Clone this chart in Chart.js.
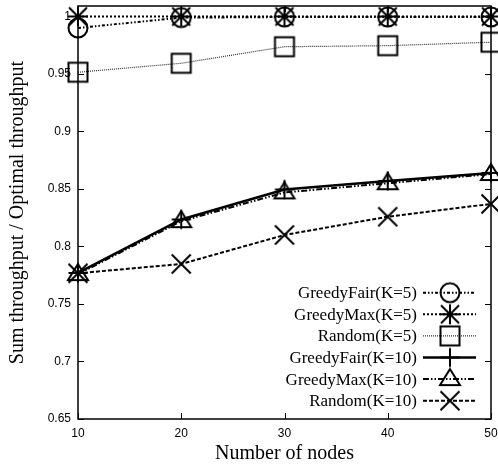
<!DOCTYPE html>
<html>
<head>
<meta charset="utf-8">
<script src="https://cdn.jsdelivr.net/npm/chart.js@4"></script>
<style>
  html, body { margin: 0; padding: 0; background: #fff; overflow: hidden; }
  canvas { display: block; }
</style>
</head>
<body>
<canvas id="chart" width="498" height="466"></canvas>
<script>
// ---------------- Data ----------------
const nodes = [10, 20, 30, 40, 50];
const greedyFair5 = [0.990, 0.999, 0.9995, 0.9995, 0.9995];
const greedyMax5 = [1.0, 1.0, 1.0, 1.0, 1.0];
const random5 = [0.9515, 0.9593, 0.9737, 0.9746, 0.9776];
const greedyFair10 = [0.777, 0.8235, 0.8496, 0.857, 0.864];
const greedyMax10 = [0.776, 0.822, 0.847, 0.855, 0.863];
const random10 = [0.7767, 0.7848, 0.810, 0.8259, 0.837];

const xTicks = [10, 20, 30, 40, 50];
const yTicks = [0.65, 0.7, 0.75, 0.8, 0.85, 0.9, 0.95, 1];

// ---------------- Markers (gnuplot-like, open) ----------------
function makeMarker(kind) {
  const c = document.createElement("canvas");
  c.width = 26; c.height = 26;
  const g = c.getContext("2d");
  g.strokeStyle = "#000";
  g.lineWidth = 2;
  g.translate(13, 13);
  g.beginPath();
  if (kind === "circle") {
    g.arc(0, 0, 9.5, 0, Math.PI * 2);
  } else if (kind === "asterisk") {
    g.moveTo(0, -10); g.lineTo(0, 10);
    g.moveTo(-10, 0); g.lineTo(10, 0);
    g.moveTo(-9, -9); g.lineTo(9, 9);
    g.moveTo(-9, 9); g.lineTo(9, -9);
  } else if (kind === "square") {
    g.rect(-9.5, -9.5, 19, 19);
  } else if (kind === "plus") {
    g.moveTo(0, -9.5); g.lineTo(0, 9.5);
    g.moveTo(-9.5, 0); g.lineTo(9.5, 0);
  } else if (kind === "triangle") {
    g.moveTo(0, -10); g.lineTo(10, 6); g.lineTo(-10, 6); g.closePath();
  } else if (kind === "cross") {
    g.moveTo(-9.5, -9.5); g.lineTo(9.5, 9.5);
    g.moveTo(-9.5, 9.5); g.lineTo(9.5, -9.5);
  }
  g.stroke();
  return c;
}

function series(label, data, marker, dash, width, color) {
  return {
    label: label,
    data: nodes.map((n, i) => ({ x: n, y: data[i] })),
    borderColor: color || "#000",
    borderWidth: width,
    borderDash: dash,
    pointStyle: makeMarker(marker),
    pointRadius: 10,
    fill: false,
    tension: 0,
    clip: false
  };
}

const datasets = [
  series("GreedyFair(K=5)", greedyFair5, "circle", [3, 2, 1.5, 2, 1.5, 2], 2),
  series("GreedyMax(K=5)", greedyMax5, "asterisk", [2, 2], 2),
  series("Random(K=5)", random5, "square", [1, 1], 1.2, "#333"),
  series("GreedyFair(K=10)", greedyFair10, "plus", [], 2.5),
  series("GreedyMax(K=10)", greedyMax10, "triangle", [6, 2, 1.5, 2, 1.5, 2], 2),
  series("Random(K=10)", random10, "cross", [4, 2], 2)
];

// ---------------- Frame, inward ticks, legend ----------------
const framePlugin = {
  id: "frame",
  afterDraw(chart) {
    const ctx = chart.ctx;
    const a = chart.chartArea;
    const xs = chart.scales.x, ys = chart.scales.y;
    ctx.save();
    ctx.strokeStyle = "#000";
    ctx.lineWidth = 1.5;
    ctx.setLineDash([]);
    ctx.strokeRect(a.left, a.top, a.right - a.left, a.bottom - a.top);
    ctx.lineWidth = 1;
    ctx.beginPath();
    xTicks.forEach(v => {
      const px = Math.round(xs.getPixelForValue(v)) + 0.5;
      ctx.moveTo(px, a.bottom); ctx.lineTo(px, a.bottom - 6);
      ctx.moveTo(px, a.top); ctx.lineTo(px, a.top + 6);
    });
    yTicks.forEach(v => {
      const py = Math.round(ys.getPixelForValue(v)) + 0.5;
      ctx.moveTo(a.left, py); ctx.lineTo(a.left + 6, py);
      ctx.moveTo(a.right, py); ctx.lineTo(a.right - 6, py);
    });
    ctx.stroke();

    // legend, text right aligned, sample on the right
    ctx.font = "17px 'Liberation Serif'";
    ctx.fillStyle = "#000";
    ctx.textAlign = "right";
    ctx.textBaseline = "middle";
    chart.data.datasets.forEach((ds, i) => {
      const y = 292.7 + i * 21.6;
      ctx.fillText(ds.label, 417, y + 1);
      ctx.strokeStyle = ds.borderColor;
      ctx.lineWidth = ds.borderWidth;
      ctx.setLineDash(ds.borderDash);
      ctx.beginPath();
      ctx.moveTo(423, y); ctx.lineTo(476, y);
      ctx.stroke();
      ctx.setLineDash([]);
      const m = ds.pointStyle;
      ctx.drawImage(m, 450 - m.width / 2, y - m.height / 2);
    });
    ctx.restore();
  }
};

// ---------------- Chart ----------------
const ctx = document.getElementById("chart").getContext("2d");
new Chart(ctx, {
  type: "line",
  data: { datasets: datasets },
  plugins: [framePlugin],
  options: {
    responsive: false,
    animation: false,
    layout: { autoPadding: false, padding: { top: 6, left: 0, right: 0, bottom: 0 } },
    plugins: { legend: { display: false }, tooltip: { enabled: false } },
    scales: {
      x: {
        type: "linear",
        min: 10,
        max: 50,
        afterBuildTicks: s => { s.ticks = xTicks.map(v => ({ value: v })); },
        afterFit: s => { s.height = 47; s.paddingLeft = 0; s.paddingRight = 7; },
        grid: { display: false, drawTicks: false },
        border: { display: false },
        ticks: {
          padding: 7,
          color: "#000",
          font: { family: "'Liberation Sans'", size: 12 },
          callback: v => String(v)
        },
        title: {
          display: true,
          text: "Number of nodes",
          color: "#000",
          font: { family: "'Liberation Serif'", size: 20 },
          padding: { top: 0, bottom: 0 }
        }
      },
      y: {
        min: 0.65,
        max: 1.0091,
        afterBuildTicks: s => { s.ticks = yTicks.map(v => ({ value: v })); },
        afterFit: s => { s.width = 78; s.paddingTop = 0; s.paddingBottom = 0; },
        grid: { display: false, drawTicks: false },
        border: { display: false },
        ticks: {
          padding: 7,
          color: "#000",
          font: { family: "'Liberation Sans'", size: 12 },
          callback: v => String(+v.toFixed(2))
        },
        title: {
          display: true,
          text: "Sum throughput / Optimal throughput",
          color: "#000",
          font: { family: "'Liberation Serif'", size: 20 },
          padding: { top: 6, bottom: 0 }
        }
      }
    }
  }
});
</script>
</body>
</html>
